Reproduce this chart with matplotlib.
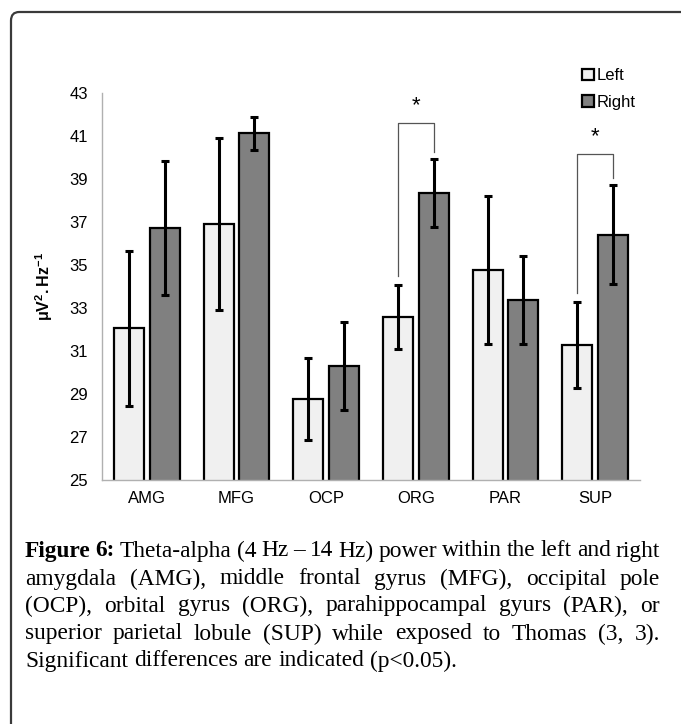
import matplotlib
matplotlib.use('Agg')
import matplotlib.pyplot as plt
import numpy as np
from matplotlib.patches import FancyBboxPatch, Patch

plt.rcParams['font.family'] = ['Liberation Sans', 'DejaVu Sans']
plt.rcParams['mathtext.fontset'] = 'custom'
plt.rcParams['mathtext.rm'] = 'Liberation Sans:bold'
plt.rcParams['mathtext.default'] = 'rm'

# data
regions = ['AMG', 'MFG', 'OCP', 'ORG', 'PAR', 'SUP']
left_mean = [32.05, 36.9, 28.77, 32.57, 34.77, 31.28]
left_err = [3.6, 4.0, 1.9, 1.5, 3.43, 2.0]
right_mean = [36.73, 41.12, 30.3, 38.36, 33.37, 36.4]
right_err = [3.13, 0.78, 2.05, 1.58, 2.03, 2.3]
yticks = [25, 27, 29, 31, 33, 35, 37, 39, 41, 43]

# significance brackets: (category index, left end, right end, top)
sig = [(3, 34.49, 40.26, 41.6), (5, 33.7, 39.05, 40.16)]

caption_lines = [
    'Theta-alpha (4 Hz \u2013 14 Hz) power within the left and right',
    'amygdala (AMG), middle frontal gyrus (MFG), occipital pole',
    '(OCP), orbital gyrus (ORG), parahippocampal gyurs (PAR), or',
    'superior parietal lobule (SUP) while exposed to Thomas (3, 3).',
    'Significant differences are indicated (p<0.05).',
]

W, H = 681, 724
fig = plt.figure(figsize=(W / 100, H / 100), dpi=100)

# rounded border of the panel
border = FancyBboxPatch((11 / W, -0.1), 1.2, 1.1 - 12 / H,
                        boxstyle='round,pad=0,rounding_size=0.012',
                        transform=fig.transFigure, fill=False,
                        edgecolor='#3a3a3a', linewidth=1.6)
fig.patches.append(border)

ax = fig.add_axes([102 / W, 1 - 480 / H, (640 - 102) / W, (480 - 93) / H])
x = np.arange(len(regions))
w = 0.335
off = 0.2
ekw = dict(elinewidth=2.2, capthick=2.2, ecolor='black')
ax.bar(x - off, left_mean, w, color='#f0f0f0', edgecolor='black',
       linewidth=1.6, yerr=left_err, capsize=3.2, error_kw=ekw, zorder=2)
ax.bar(x + off, right_mean, w, color='#808080', edgecolor='black',
       linewidth=1.6, yerr=right_err, capsize=3.2, error_kw=ekw, zorder=2)

for i, y1, y2, top in sig:
    ax.plot([i - off, i - off, i + off, i + off], [y1, top, top, y2],
            color='#555555', linewidth=0.9, zorder=1)
    ax.text(i, top + 0.3, '*', ha='center', va='bottom', fontsize=16)

ax.set_xlim(-0.5, len(regions) - 0.5)
ax.set_ylim(25, 43)
ax.set_yticks(yticks)
ax.set_xticks(x)
ax.set_xticklabels(regions)
ax.tick_params(axis='both', length=0, labelsize=12)
ax.tick_params(axis='y', pad=10)
ax.tick_params(axis='x', pad=8)
for s in ['top', 'right']:
    ax.spines[s].set_visible(False)
for s in ['left', 'bottom']:
    ax.spines[s].set_color('#b0b0b0')
    ax.spines[s].set_linewidth(1.0)
ax.set_ylabel(r'$\mu V^{2}.Hz^{-1}$', fontsize=11.5, labelpad=10)

handles = [Patch(facecolor='#f0f0f0', edgecolor='black', linewidth=1.6),
           Patch(facecolor='#808080', edgecolor='black', linewidth=1.6)]
ax.legend(handles, ['Left', 'Right'], loc='upper left',
          bbox_to_anchor=(574 / W, 1 - 60 / H), bbox_transform=fig.transFigure,
          frameon=False, fontsize=12, handlelength=0.7, handleheight=0.7,
          handletextpad=0.15, labelspacing=0.7, borderpad=0)

# caption, justified like the source
serif = ['Liberation Serif', 'DejaVu Serif']
fs = 16.8
xl, xr = 25, 660
line_y = [551, 579, 606, 634, 661]
fig.canvas.draw()
r = fig.canvas.get_renderer()


def text_w(t, bold=False):
    tt = fig.text(0, 0, t, family=serif, fontsize=fs,
                  fontweight='bold' if bold else 'normal')
    bw = tt.get_window_extent(renderer=r).width
    tt.remove()
    return bw


for k, line in enumerate(caption_lines):
    words = line.split(' ')
    parts = [(w_, False) for w_ in words]
    if k == 0:
        parts = [('Figure', True), ('6:', True)] + parts
    widths = [text_w(p, b) for p, b in parts]
    if k < len(caption_lines) - 1:
        gap = (xr - xl - sum(widths)) / (len(parts) - 1)
    else:
        gap = text_w('a b') - text_w('ab')
    cx = xl
    for (p, b), pw in zip(parts, widths):
        fig.text(cx / W, 1 - line_y[k] / H, p, family=serif, fontsize=fs,
                 fontweight='bold' if b else 'normal', va='center', ha='left')
        cx += pw + gap

fig.savefig('out.png', dpi=100)
